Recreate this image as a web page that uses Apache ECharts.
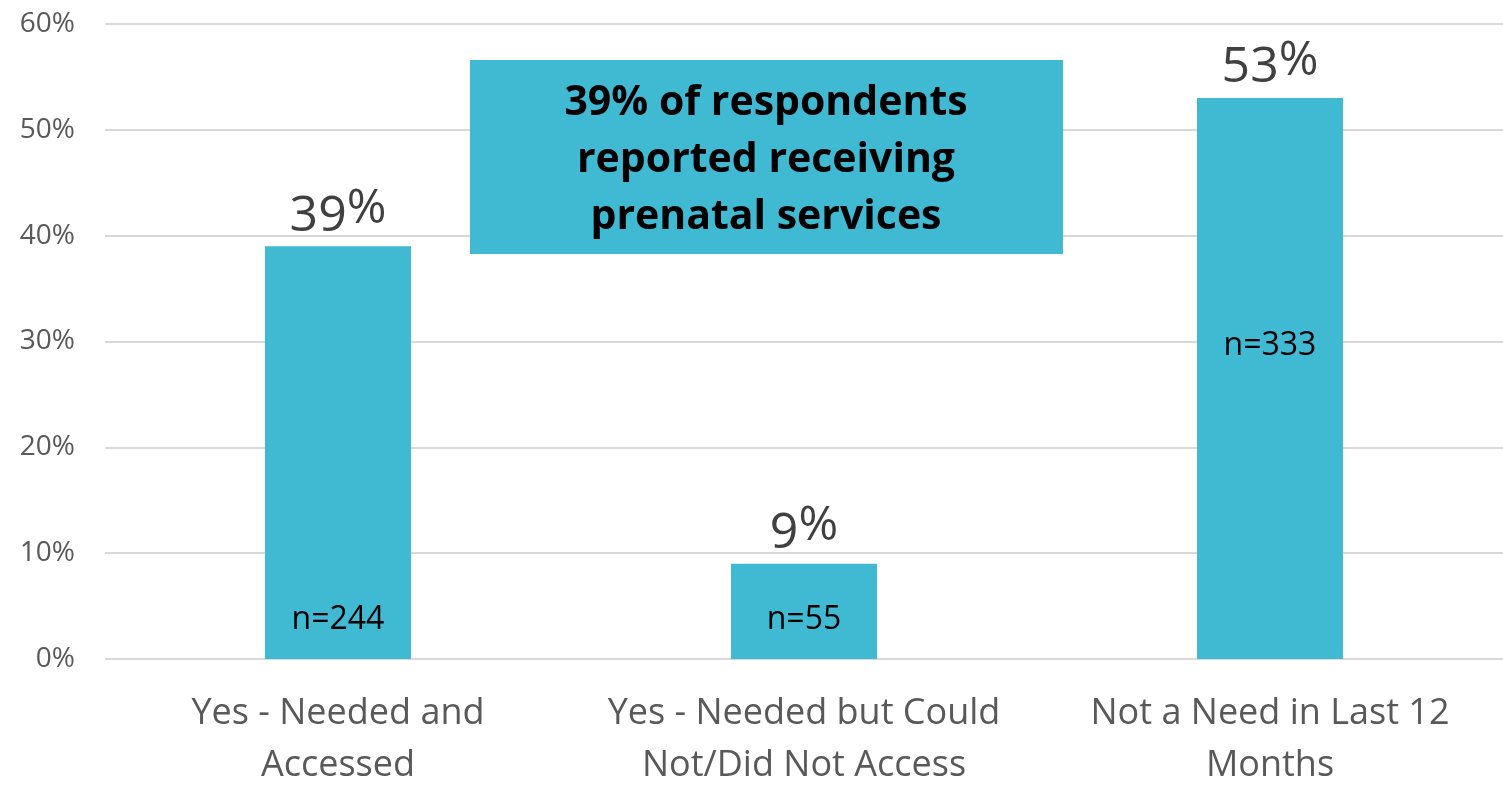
<!DOCTYPE html>
<html>
<head>
<meta charset="utf-8">
<script src="https://cdn.jsdelivr.net/npm/echarts@6/dist/echarts.min.js"></script>
<style>html,body{margin:0;padding:0;background:#fff}#c{width:1503px;height:786px}</style>
</head>
<body>
<div id="c"></div>
<script>
const categories = ['Yes - Needed and\nAccessed', 'Yes - Needed but Could\nNot/Did Not Access', 'Not a Need in Last 12\nMonths'];
const percentValues = [39, 9, 53];
const sampleSizes = [244, 55, 333];
const yTicks = [0, 10, 20, 30, 40, 50, 60];
const calloutLines = ['39% of respondents', 'reported receiving', 'prenatal services'];

const FONT = 'Open Sans';
const barColor = '#40B9D3';

// where each n= label sits inside its bar
const nLabelPlacement = [
  { position: 'insideBottom', distance: 20 },
  { position: 'insideBottom', distance: 20 },
  { position: 'insideTop', distance: 229 }
];

const chart = echarts.init(document.getElementById('c'));

const nData = percentValues.map((v, i) => ({ value: v, label: nLabelPlacement[i] }));

chart.setOption({
  animation: false,
  grid: { left: 105, right: 0, top: 24, bottom: 127, containLabel: false, outerBoundsMode: 'none' },
  xAxis: {
    type: 'category',
    data: categories,
    axisLine: { show: false },
    axisTick: { show: false },
    axisLabel: {
      interval: 0,
      color: '#595959',
      fontFamily: FONT,
      fontSize: 36,
      lineHeight: 52,
      margin: 29
    }
  },
  yAxis: {
    type: 'value',
    min: yTicks[0],
    max: yTicks[yTicks.length - 1],
    interval: 10,
    axisLine: { show: false },
    axisTick: { show: false },
    splitLine: { lineStyle: { color: '#D9D9D9', width: 2 } },
    axisLabel: {
      color: '#595959',
      fontFamily: FONT,
      fontSize: 28,
      margin: 30,
      formatter: v => v + '%'
    }
  },
  series: [
    {
      type: 'bar',
      data: percentValues,
      barWidth: 146,
      itemStyle: { color: barColor },
      label: {
        show: true,
        position: 'top',
        distance: 2,
        formatter: p => '{n|' + p.value + '}{p|%}',
        rich: {
          n: { fontFamily: FONT, fontSize: 50, color: '#404040', lineHeight: 56 },
          p: { fontFamily: FONT, fontSize: 48, color: '#404040', lineHeight: 56, padding: [0, 0, 14, 0] }
        }
      },
      z: 2
    },
    {
      type: 'bar',
      data: nData,
      barWidth: 146,
      barGap: '-100%',
      itemStyle: { color: 'rgba(0,0,0,0)' },
      label: {
        show: true,
        formatter: p => 'n=' + sampleSizes[p.dataIndex],
        color: '#000000',
        fontFamily: FONT,
        fontSize: 32,
        lineHeight: 38
      },
      silent: true,
      z: 3
    }
  ],
  graphic: [
    {
      type: 'group',
      left: 470,
      top: 60,
      z: 100,
      children: [
        { type: 'rect', z: 100, shape: { x: 0, y: 0, width: 593, height: 194 }, style: { fill: barColor } },
        {
          type: 'text',
          z: 101,
          x: 296, y: 100,
          style: {
            text: calloutLines.join('\n'),
            fill: '#000000',
            font: 'bold 41px "' + FONT + '"',
            lineHeight: 57,
            align: 'center',
            verticalAlign: 'middle'
          }
        }
      ]
    }
  ]
});
</script>
</body>
</html>
